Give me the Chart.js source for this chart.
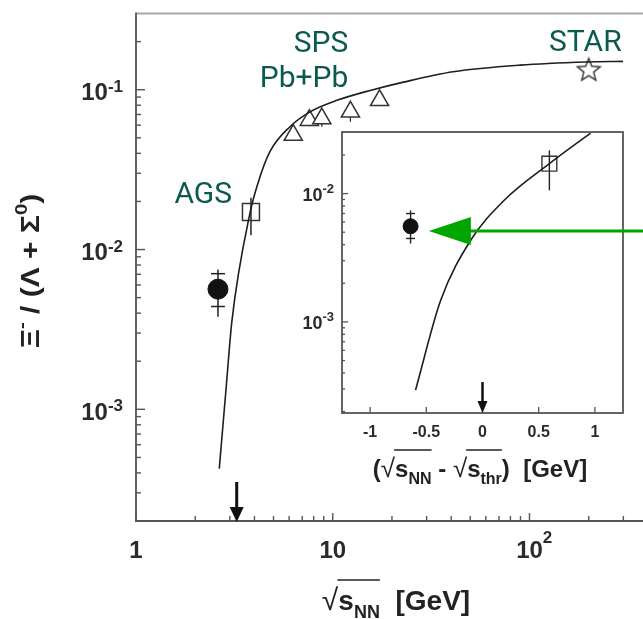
<!DOCTYPE html>
<html><head><meta charset="utf-8">
<script src="https://cdn.jsdelivr.net/npm/chart.js@4"></script>
<style>
html,body{margin:0;padding:0;background:#fff;overflow:hidden;width:643px;height:619px;}
canvas{position:absolute;left:0;top:0;}
</style></head><body>
<canvas id="main" width="700" height="619"></canvas>
<canvas id="inset" width="700" height="619"></canvas>
<script>
// ---------------- DATA ----------------
// main panel: x = sqrt(s_NN) [GeV], y = Xi- / (Lambda + Sigma0)
const mainXTicks = [1, 10, 100];
const mainXTickBase = ["1", "10", "10"];
const mainXTickSup = ["", "", "2"];
const mainYTicks = [1e-3, 1e-2, 1e-1];
const mainYTickBase = ["10", "10", "10"];
const mainYTickSup = ["-3", "-2", "-1"];

const thresholdSqrtS = 3.25;

const curveSqrtS = [2.65, 2.88, 3.07, 3.80, 4.17, 4.80, 6.06, 7.67, 10.5, 15.5, 22.9, 40.9, 89.6, 196, 299];
const curveRatio = [4.25e-4, 1.42e-3, 3.54e-3, 0.0170, 0.0261, 0.0411, 0.0587, 0.0727, 0.0858, 0.0990, 0.1116, 0.1295, 0.1425, 0.1490, 0.1505];

const e895SqrtS = [2.61];
const e895Ratio = [5.65e-3];
const e895Lo = [3.8e-3];
const e895Hi = [7.5e-3];
const e895CapLo = [4.4e-3];
const e895CapHi = [7.06e-3];

const agsSqrtS = [3.84];
const agsRatio = [0.0172];
const agsLo = [0.0123];
const agsHi = [0.0211];

const spsSqrtS = [6.3, 7.6, 8.8, 12.3, 17.3];
const spsRatio = [0.052, 0.0645, 0.066, 0.0727, 0.0859];
const spsLo = [0.048, 0.059, 0.0587, 0.063, 0.079];

const starSqrtS = [200];
const starRatio = [0.132];

// inset: x = sqrt(s_NN) - sqrt(s_thr) [GeV]
const insetXTicks = [-1, -0.5, 0, 0.5, 1];
const insetXTickLabels = ["-1", "-0.5", "0", "0.5", "1"];
const insetYTicks = [1e-3, 1e-2];
const insetYTickBase = ["10", "10"];
const insetYTickSup = ["-3", "-2"];

const insetCurveDx = [-0.596, -0.372, -0.105, 0.193, 0.595, 0.961];
const insetCurveRatio = [2.94e-4, 1.475e-3, 4.33e-3, 8.87e-3, 0.01714, 0.02965];

const insetE895Dx = [-0.64];
const insetE895Ratio = [5.56e-3];
const insetE895Lo = [4.08e-3];
const insetE895Hi = [7.4e-3];
const insetE895CapLo = [4.47e-3];
const insetE895CapHi = [6.99e-3];

const insetAgsDx = [0.595];
const insetAgsRatio = [0.0171];
const insetAgsLo = [0.0106];
const insetAgsHi = [0.0217];

const pointerTipDx = -0.477;
const pointerRatio = 5.1e-3;

// experiment labels (anchored in data units: right edge x, baseline y)
const expLabels = ["SPS", "Pb+Pb", "AGS", "STAR"];
const expLabelX = [12.0, 12.0, 3.08, 294];
const expLabelY = [0.172, 0.104, 0.0196, 0.175];

// ---------------- HELPERS ----------------
const FAM = '"Liberation Sans", Arial, Helvetica, sans-serif';
function fnt(size, bold) { return (bold === false ? '' : 'bold ') + size + 'px ' + FAM; }

function drawRuns(ctx, runs, x, y, align) {
  let total = 0;
  runs.forEach(r => { ctx.font = fnt(r.s, r.bold); r.w = ctx.measureText(r.t).width; total += r.w; });
  let cx = align === 'center' ? x - total / 2 : (align === 'right' ? x - total : x);
  ctx.textAlign = 'left'; ctx.textBaseline = 'alphabetic';
  let barStart = null, barEnd = null;
  runs.forEach(r => {
    ctx.font = fnt(r.s, r.bold);
    ctx.fillText(r.t, cx, y + (r.dy || 0));
    if (r.bar) { if (barStart === null) barStart = cx; barEnd = cx + r.w; }
    if (r.barEnd) { drawBar(ctx, barStart - 1, barEnd, y - r.barH); barStart = null; }
    cx += r.w;
  });
  return total;
}
function drawBar(ctx, x0, x1, y) {
  ctx.save(); ctx.lineWidth = 1.3; ctx.strokeStyle = ctx.fillStyle;
  ctx.beginPath(); ctx.moveTo(x0, y); ctx.lineTo(x1, y); ctx.stroke(); ctx.restore();
}
function vline(ctx, x, y0, y1) { ctx.beginPath(); ctx.moveTo(x, y0); ctx.lineTo(x, y1); ctx.stroke(); }
function hline(ctx, x0, x1, y) { ctx.beginPath(); ctx.moveTo(x0, y); ctx.lineTo(x1, y); ctx.stroke(); }

function downArrow(ctx, x, yBottom, len, shaftW, headHalf, headLen) {
  ctx.save(); ctx.fillStyle = '#111'; ctx.strokeStyle = '#111'; ctx.lineWidth = shaftW;
  vline(ctx, x, yBottom - len, yBottom - headLen + 2);
  ctx.beginPath(); ctx.moveTo(x - headHalf, yBottom - headLen); ctx.lineTo(x + headHalf, yBottom - headLen);
  ctx.lineTo(x, yBottom); ctx.closePath(); ctx.fill(); ctx.restore();
}

function logMinorValues(min, max) {
  const out = [];
  for (let d = Math.floor(Math.log10(min)); d <= Math.ceil(Math.log10(max)); d++) {
    for (let m = 2; m <= 9; m++) { const v = m * Math.pow(10, d); if (v > min && v < max) out.push(v); }
  }
  return out;
}

const starImg = (() => {
  const c = document.createElement('canvas'); c.width = 30; c.height = 30;
  const g = c.getContext('2d'); g.beginPath();
  for (let i = 0; i < 10; i++) {
    const r = i % 2 === 0 ? 12 : 5.2; const a = -Math.PI / 2 + i * Math.PI / 5;
    g.lineTo(15 + r * Math.cos(a), 15 + r * Math.sin(a));
  }
  g.closePath(); g.fillStyle = '#fff'; g.fill(); g.strokeStyle = '#333'; g.lineWidth = 1.4; g.stroke();
  return c;
})();

const pts = (xs, ys) => xs.map((v, i) => ({ x: v, y: ys[i] }));

// ---------------- MAIN CHART ----------------
const mainPlugin = {
  id: 'mainDeco',
  beforeDatasetsDraw(chart) {
    const { ctx, scales: { x, y } } = chart;
    ctx.save(); ctx.strokeStyle = '#222'; ctx.lineWidth = 1.5;
    const cx = x.getPixelForValue(e895SqrtS[0]);
    vline(ctx, cx, y.getPixelForValue(e895Lo[0]), y.getPixelForValue(e895Hi[0]));
    hline(ctx, cx - 7, cx + 7, y.getPixelForValue(e895CapLo[0]));
    hline(ctx, cx - 7, cx + 7, y.getPixelForValue(e895CapHi[0]));
    const sx = x.getPixelForValue(agsSqrtS[0]);
    vline(ctx, sx, y.getPixelForValue(agsLo[0]), y.getPixelForValue(agsHi[0]));
    ctx.lineWidth = 1.2;
    spsSqrtS.forEach((v, i) => vline(ctx, x.getPixelForValue(v), y.getPixelForValue(spsLo[i]), y.getPixelForValue(spsRatio[i])));
    ctx.restore();
  },
  afterDatasetsDraw(chart) {
    const { ctx, chartArea: a, scales: { x, y } } = chart;
    ctx.save();
    ctx.lineWidth = 2;
    ctx.strokeStyle = '#a8a8a8'; hline(ctx, a.left, a.right, a.top);
    ctx.strokeStyle = '#666'; vline(ctx, a.left, a.top - 1, a.bottom + 1);
    ctx.strokeStyle = '#555'; hline(ctx, a.left - 1, a.right, a.bottom);
    ctx.lineWidth = 1.4; ctx.strokeStyle = '#555';
    mainYTicks.forEach(v => hline(ctx, a.left, a.left + 9, y.getPixelForValue(v)));
    logMinorValues(y.min, y.max).forEach(v => hline(ctx, a.left, a.left + 5, y.getPixelForValue(v)));
    mainXTicks.forEach(v => vline(ctx, x.getPixelForValue(v), a.bottom, a.bottom - 8));
    logMinorValues(x.min, x.max).forEach(v => vline(ctx, x.getPixelForValue(v), a.bottom, a.bottom - 5));
    ctx.fillStyle = '#2b2b2b';
    mainYTicks.forEach((v, i) => {
      const py = y.getPixelForValue(v);
      ctx.font = fnt(17); const sw = ctx.measureText(mainYTickSup[i]).width;
      ctx.textAlign = 'left'; ctx.textBaseline = 'alphabetic';
      const right = a.left - 13;
      ctx.fillText(mainYTickSup[i], right - sw, py + 2);
      ctx.font = fnt(24); ctx.textAlign = 'right';
      ctx.fillText(mainYTickBase[i], right - sw, py + 10.5);
    });
    mainXTicks.forEach((v, i) => {
      const px = x.getPixelForValue(v);
      ctx.font = fnt(24); ctx.textAlign = 'center'; ctx.textBaseline = 'alphabetic';
      const bw = ctx.measureText(mainXTickBase[i]).width;
      ctx.fillText(mainXTickBase[i], px, a.bottom + 37);
      if (mainXTickSup[i]) { ctx.font = fnt(17); ctx.textAlign = 'left'; ctx.fillText(mainXTickSup[i], px + bw / 2, a.bottom + 22); }
    });
    downArrow(ctx, x.getPixelForValue(thresholdSqrtS), a.bottom + 1, 40, 3, 7, 15);
    ctx.fillStyle = '#222';
    drawRuns(ctx, [
      { t: '\u221A', s: 30, bold: false },
      { t: 's', s: 28, bar: true },
      { t: 'NN', s: 18, dy: 8, bar: true, barEnd: true, barH: 30 },
      { t: '  [GeV]', s: 28 }
    ], 396, 610, 'center');
    // y title (rotated, slightly stretched along the text like the reference)
    ctx.save(); ctx.translate(30, 271); ctx.rotate(-Math.PI / 2); ctx.scale(1.2, 1);
    drawRuns(ctx, [
      { t: '\u039E', s: 25 }, { t: '-', s: 17, dy: -12 },
      { t: ' / (\u039B + \u03A3', s: 25 }, { t: '0', s: 17, dy: -12 }, { t: ')', s: 25 }
    ], 0, 9, 'center');
    ctx.restore();
    ctx.fillStyle = '#0b5a50'; ctx.font = '30px Roboto, "Liberation Sans", sans-serif';
    ctx.textAlign = 'right'; ctx.textBaseline = 'alphabetic';
    expLabels.forEach((t, i) => ctx.fillText(t, x.getPixelForValue(expLabelX[i]), y.getPixelForValue(expLabelY[i])));
    ctx.restore();
  }
};

new Chart(document.getElementById('main'), {
  type: 'scatter',
  data: {
    datasets: [
      { type: 'line', data: pts(curveSqrtS, curveRatio), borderColor: '#1e1e1e', borderWidth: 1.6, pointRadius: 0, cubicInterpolationMode: 'monotone', fill: false },
      { data: pts(spsSqrtS, spsRatio), pointStyle: 'triangle', pointRadius: 10.5, backgroundColor: '#fff', borderColor: '#333', borderWidth: 1.5 },
      { data: pts(agsSqrtS, agsRatio), pointStyle: 'rect', pointRadius: 12, backgroundColor: 'rgba(0,0,0,0)', borderColor: '#333', borderWidth: 1.5 },
      { data: pts(e895SqrtS, e895Ratio), pointStyle: 'circle', pointRadius: 10, backgroundColor: '#111', borderColor: '#111', borderWidth: 1 },
      { data: pts(starSqrtS, starRatio), pointStyle: starImg, pointRadius: 12 }
    ]
  },
  options: {
    responsive: false, animation: false, devicePixelRatio: 1, events: [],
    layout: { padding: { left: 136, top: 10, right: 33, bottom: 98 } },
    plugins: { legend: { display: false }, tooltip: { enabled: false } },
    scales: {
      x: { type: 'logarithmic', min: 1, max: 500, display: false },
      y: { type: 'logarithmic', min: 2e-4, max: 0.3, display: false }
    }
  },
  plugins: [mainPlugin]
});

// ---------------- INSET CHART ----------------
const insetPlugin = {
  id: 'insetDeco',
  beforeDatasetsDraw(chart) {
    const { ctx, chartArea: a, scales: { x, y } } = chart;
    ctx.save();
    ctx.fillStyle = '#fff'; ctx.fillRect(a.left, a.top, a.right - a.left, a.bottom - a.top);
    ctx.strokeStyle = '#222'; ctx.lineWidth = 1.4;
    const cx = x.getPixelForValue(insetE895Dx[0]);
    vline(ctx, cx, y.getPixelForValue(insetE895Lo[0]), y.getPixelForValue(insetE895Hi[0]));
    hline(ctx, cx - 4.5, cx + 4.5, y.getPixelForValue(insetE895CapLo[0]));
    hline(ctx, cx - 4.5, cx + 4.5, y.getPixelForValue(insetE895CapHi[0]));
    vline(ctx, x.getPixelForValue(insetAgsDx[0]), y.getPixelForValue(insetAgsLo[0]), y.getPixelForValue(insetAgsHi[0]));
    ctx.restore();
  },
  afterDatasetsDraw(chart) {
    const { ctx, chartArea: a, scales: { x, y } } = chart;
    ctx.save();
    ctx.strokeStyle = '#555'; ctx.lineWidth = 1.8;
    ctx.strokeRect(a.left, a.top, a.right - a.left, a.bottom - a.top);
    ctx.lineWidth = 1.3;
    insetXTicks.forEach(v => vline(ctx, x.getPixelForValue(v), a.bottom, a.bottom - 6));
    insetYTicks.forEach(v => hline(ctx, a.left, a.left + 6, y.getPixelForValue(v)));
    logMinorValues(y.min, y.max).forEach(v => hline(ctx, a.left, a.left + 3, y.getPixelForValue(v)));
    ctx.fillStyle = '#2b2b2b';
    ctx.font = fnt(16); ctx.textAlign = 'center'; ctx.textBaseline = 'alphabetic';
    insetXTicks.forEach((v, i) => ctx.fillText(insetXTickLabels[i], x.getPixelForValue(v), a.bottom + 24));
    insetYTicks.forEach((v, i) => {
      const py = y.getPixelForValue(v);
      ctx.font = fnt(13); const sw = ctx.measureText(insetYTickSup[i]).width;
      const right = a.left - 8;
      ctx.textAlign = 'left'; ctx.fillText(insetYTickSup[i], right - sw, py - 1);
      ctx.font = fnt(18); ctx.textAlign = 'right'; ctx.fillText(insetYTickBase[i], right - sw, py + 7);
    });
    downArrow(ctx, x.getPixelForValue(0), a.bottom, 31, 2.5, 5, 12);
    ctx.fillStyle = '#222';
    drawRuns(ctx, [
      { t: '(', s: 24 },
      { t: '\u221A', s: 26, bold: false },
      { t: 's', s: 24, bar: true },
      { t: 'NN', s: 16, dy: 7, bar: true, barEnd: true, barH: 27 },
      { t: ' - ', s: 24 },
      { t: '\u221A', s: 26, bold: false },
      { t: 's', s: 24, bar: true },
      { t: 'thr', s: 16, dy: 7, bar: true, barEnd: true, barH: 27 },
      { t: ')  [GeV]', s: 24 }
    ], 480, 477, 'center');
    const tipX = x.getPixelForValue(pointerTipDx), tipY = y.getPixelForValue(pointerRatio);
    ctx.fillStyle = '#00a600'; ctx.strokeStyle = '#00a600'; ctx.lineWidth = 3;
    hline(ctx, tipX + 38, chart.width, tipY);
    ctx.beginPath(); ctx.moveTo(tipX, tipY); ctx.lineTo(tipX + 42, tipY - 14); ctx.lineTo(tipX + 42, tipY + 14); ctx.closePath(); ctx.fill();
    ctx.restore();
  }
};

new Chart(document.getElementById('inset'), {
  type: 'scatter',
  data: {
    datasets: [
      { type: 'line', data: pts(insetCurveDx, insetCurveRatio), borderColor: '#1e1e1e', borderWidth: 1.6, pointRadius: 0, cubicInterpolationMode: 'monotone', fill: false },
      { data: pts(insetAgsDx, insetAgsRatio), pointStyle: 'rect', pointRadius: 10.5, backgroundColor: 'rgba(0,0,0,0)', borderColor: '#333', borderWidth: 1.4 },
      { data: pts(insetE895Dx, insetE895Ratio), pointStyle: 'circle', pointRadius: 7.5, backgroundColor: '#111', borderColor: '#111', borderWidth: 1 }
    ]
  },
  options: {
    responsive: false, animation: false, devicePixelRatio: 1, events: [],
    layout: { padding: { left: 342, top: 132, right: 77, bottom: 206 } },
    plugins: { legend: { display: false }, tooltip: { enabled: false } },
    scales: {
      x: { type: 'linear', min: -1.25, max: 1.25, display: false },
      y: { type: 'logarithmic', min: 1.95e-4, max: 0.0302, display: false }
    }
  },
  plugins: [insetPlugin]
});
</script>
</body></html>
